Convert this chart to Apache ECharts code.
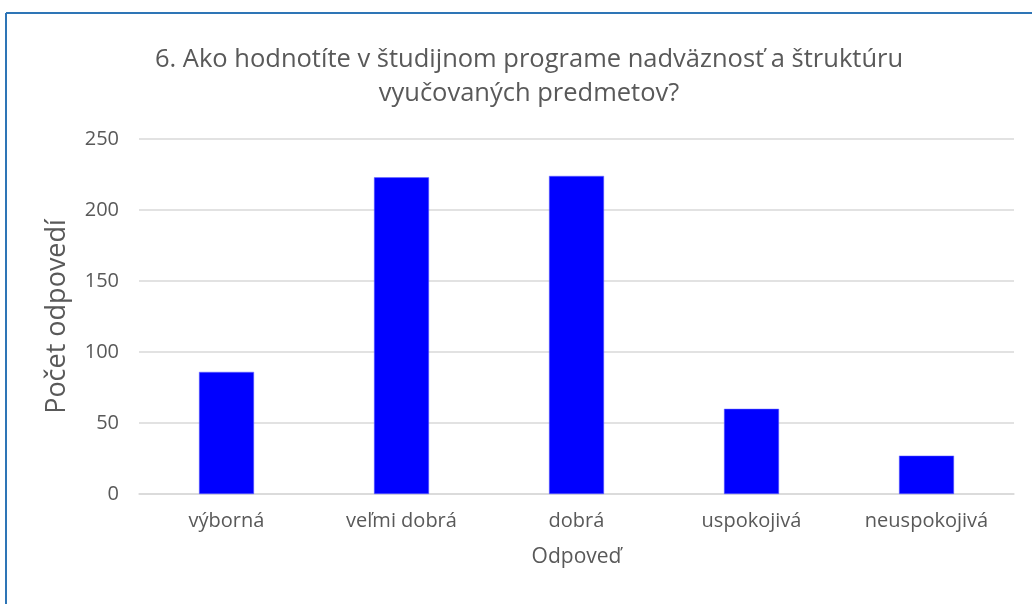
<!DOCTYPE html>
<html>
<head>
<meta charset="utf-8">
<script src="https://cdn.jsdelivr.net/npm/echarts@6/dist/echarts.min.js"></script>
<style>
html,body{margin:0;padding:0;background:#fff;}
#chart{width:1032px;height:604px;}
</style>
</head>
<body>
<div id="chart"></div>
<script>
var categories = ['výborná', 'veľmi dobrá', 'dobrá', 'uspokojivá', 'neuspokojivá'];
var counts = [86, 223, 224, 60, 27];
var yTicks = [0, 50, 100, 150, 200, 250];

var font = '"Open Sans", "Noto Sans", sans-serif';
var chart = echarts.init(document.getElementById('chart'));

var option = {
  backgroundColor: '#fff',
  animation: false,
  title: {
    text: '6. Ako hodnotíte v študijnom programe nadväznosť a štruktúru\nvyučovaných predmetov?',
    left: 524,
    top: 38,
    textAlign: 'center',
    textStyle: {
      fontFamily: font,
      fontSize: 25.5,
      fontWeight: 'normal',
      color: '#595959',
      lineHeight: 34
    }
  },
  graphic: [
    { type: 'line', shape: { x1: 6, y1: 13, x2: 1032, y2: 13 }, style: { stroke: '#2e75b6', lineWidth: 2 } },
    { type: 'line', shape: { x1: 6, y1: 13, x2: 6, y2: 604 }, style: { stroke: '#2e75b6', lineWidth: 2 } }
  ],
  grid: { left: 139, right: 18, top: 139, bottom: 110, containLabel: false },
  xAxis: {
    type: 'category',
    data: categories,
    name: 'Odpoveď',
    nameLocation: 'middle',
    nameGap: 53,
    nameTextStyle: { fontFamily: font, fontSize: 21, color: '#595959' },
    axisLine: { show: true, lineStyle: { color: '#d9d9d9', width: 1.5 } },
    axisTick: { show: false },
    axisLabel: { fontFamily: font, fontSize: 20, color: '#595959', margin: 17 }
  },
  yAxis: {
    type: 'value',
    min: yTicks[0],
    max: yTicks[yTicks.length - 1],
    interval: 50,
    name: 'Počet odpovedí',
    nameLocation: 'middle',
    nameGap: 68,
    nameTextStyle: { fontFamily: font, fontSize: 27, color: '#595959' },
    axisLine: { show: false },
    axisTick: { show: false },
    axisLabel: { fontFamily: font, fontSize: 20, color: '#595959', margin: 20 },
    splitLine: { lineStyle: { color: '#d9d9d9', width: 1.5 } }
  },
  series: [{
    type: 'bar',
    data: counts,
    barWidth: 55,
    itemStyle: { color: '#0000ff', borderColor: '#6b6bff', borderWidth: 0.5 }
  }]
};
chart.setOption(option);
</script>
</body>
</html>
